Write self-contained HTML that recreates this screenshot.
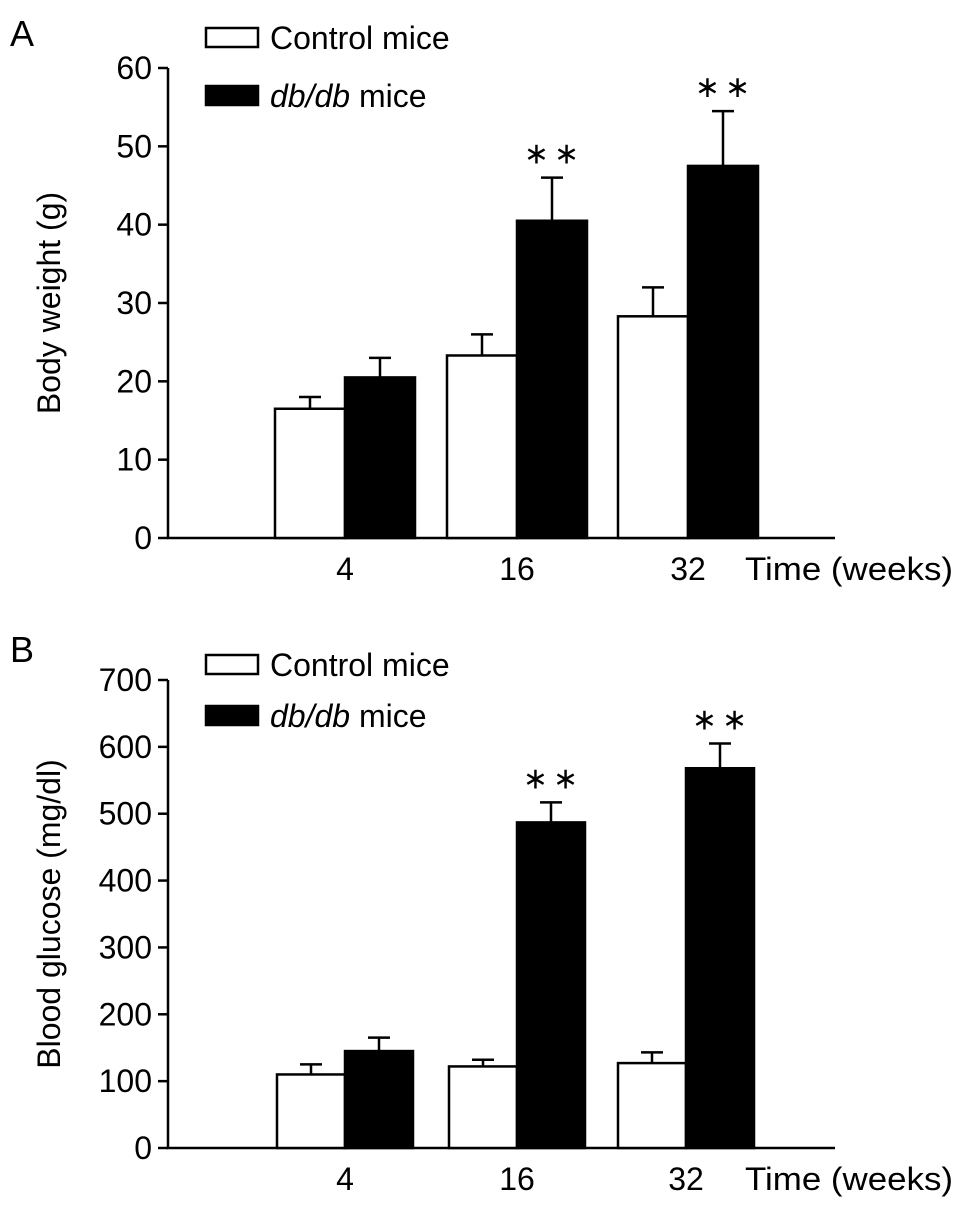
<!DOCTYPE html>
<html><head><meta charset="utf-8"><style>
body{margin:0;background:#fff;}
svg{display:block;font-family:"Liberation Sans",Arial,sans-serif;}
</style></head><body>
<svg id="fig" width="969" height="1211" viewBox="0 0 969 1211"></svg>
<script>
const categories=["4","16","32"];
const bwControl=[16.5,23.3,28.3];
const bwControlErr=[1.5,2.7,3.7];
const bwDb=[20.5,40.5,47.5];
const bwDbErr=[2.5,5.5,7.0];
const bwTicks=[0,10,20,30,40,50,60];
const bgControl=[110,122,127];
const bgControlErr=[15,10,16];
const bgDb=[145,487,568];
const bgDbErr=[20,30,37];
const bgTicks=[0,100,200,300,400,500,600,700];
const bwSig=["","**","**"];
const bgSig=["","**","**"];

const NS="http://www.w3.org/2000/svg";
const svg=document.getElementById('fig');
function mk(tag,attrs,parent,text){const e=document.createElementNS(NS,tag);for(const k in attrs)e.setAttribute(k,attrs[k]);if(text!==undefined)e.textContent=text;(parent||svg).appendChild(e);return e;}
const FS=32;
function panel(cfg){
  const g=mk('g',{});
  
  
  const y=v=>cfg.y0-(v-cfg.min)/(cfg.max-cfg.min)*(cfg.y0-cfg.yTop);
  const L=mk('text',{x:10,y:cfg.letterY,'font-size':36},g,cfg.letter);
  
  
  const ax=mk('line',{x1:168,y1:cfg.yTop,x2:168,y2:cfg.y0,stroke:'#000','stroke-width':2.5},g);
  
  
  const xa=mk('line',{x1:167,y1:cfg.y0,x2:835,y2:cfg.y0,stroke:'#000','stroke-width':2.5},g);
  
  
  cfg.ticks.forEach(t=>{
    const tl=mk('line',{x1:158,y1:y(t),x2:168,y2:y(t),stroke:'#000','stroke-width':2.5},g);
    
    
    const tt=mk('text',{x:152,y:y(t)+11,'font-size':FS,'text-anchor':'end'},g,String(t));
    
    
  });
  const yt=mk('text',{x:0,y:0,'font-size':FS,'text-anchor':'middle',transform:`translate(60,${(cfg.yTop+cfg.y0)/2}) rotate(-90)`},g,cfg.ytitle);
  
  
  categories.forEach((c,i)=>{
    const cx=cfg.centers[i];
    const bw=cfg.bw;
    [[cfg.ctrl,cfg.ctrlErr,cx-bw,'#fff','bar-control-'+c],[cfg.db,cfg.dbErr,cx,'#000','bar-dbdb-'+c]].forEach(([vals,errs,x,fill,nm])=>{
      const v=vals[i],e=errs[i];
      const mid=x+bw/2;
      const el=mk('line',{x1:mid,y1:y(v),x2:mid,y2:y(v+e),stroke:'#000','stroke-width':2.5},g);
      
      
      const ec=mk('line',{x1:mid-11,y1:y(v+e),x2:mid+11,y2:y(v+e),stroke:'#000','stroke-width':2.5},g);
      
      
      const r=mk('rect',{x:x,y:y(v),width:bw,height:cfg.y0-y(v),fill:fill,stroke:'#000','stroke-width':2.5},g);
      
      
    });
    if(cfg.sig[i]){
      const s=mk('text',{x:cx+bw/2+2,y:y(cfg.db[i]+cfg.dbErr[i])-14,'font-size':30,'text-anchor':'middle','letter-spacing':5},g,cfg.sig[i].replace(/\*/g,'∗'));
      
      
    }
    const xl=mk('text',{x:cx,y:cfg.y0+42,'font-size':FS,'text-anchor':'middle'},g,c);
    
    
  });
  const xt=mk('text',{x:745,y:cfg.y0+42,'font-size':FS,textLength:208,lengthAdjust:'spacingAndGlyphs'},g,'Time (weeks)');
  
  
  const l1=mk('rect',{x:206,y:cfg.legY,width:52,height:19,fill:'#fff',stroke:'#000','stroke-width':2.5},g);
  
  
  const t1=mk('text',{x:270,y:cfg.legY+21,'font-size':FS},g,'Control mice');
  
  
  const l2=mk('rect',{x:206,y:cfg.legY+cfg.legGap,width:52,height:19,fill:'#000',stroke:'#000','stroke-width':2.5},g);
  
  
  const t2=mk('text',{x:270,y:cfg.legY+cfg.legGap+21,'font-size':FS},g);
  
  
  mk('tspan',{'font-style':'italic'},t2,'db/db');
  mk('tspan',{},t2,' mice');
}
panel({name:'panel-a-body-weight',letter:'A',letterY:46,yTop:68,y0:538,min:0,max:60,ticks:bwTicks,
  ytitle:'Body weight (g)',centers:[345,517,688],bw:70,ctrl:bwControl,ctrlErr:bwControlErr,db:bwDb,dbErr:bwDbErr,sig:bwSig,legY:28,legGap:58});
panel({name:'panel-b-blood-glucose',letter:'B',letterY:662,yTop:680,y0:1148,min:0,max:700,ticks:bgTicks,
  ytitle:'Blood glucose (mg/dl)',centers:[345,517,686],bw:68,ctrl:bgControl,ctrlErr:bgControlErr,db:bgDb,dbErr:bgDbErr,sig:bgSig,legY:655,legGap:51});
</script>
</body></html>
